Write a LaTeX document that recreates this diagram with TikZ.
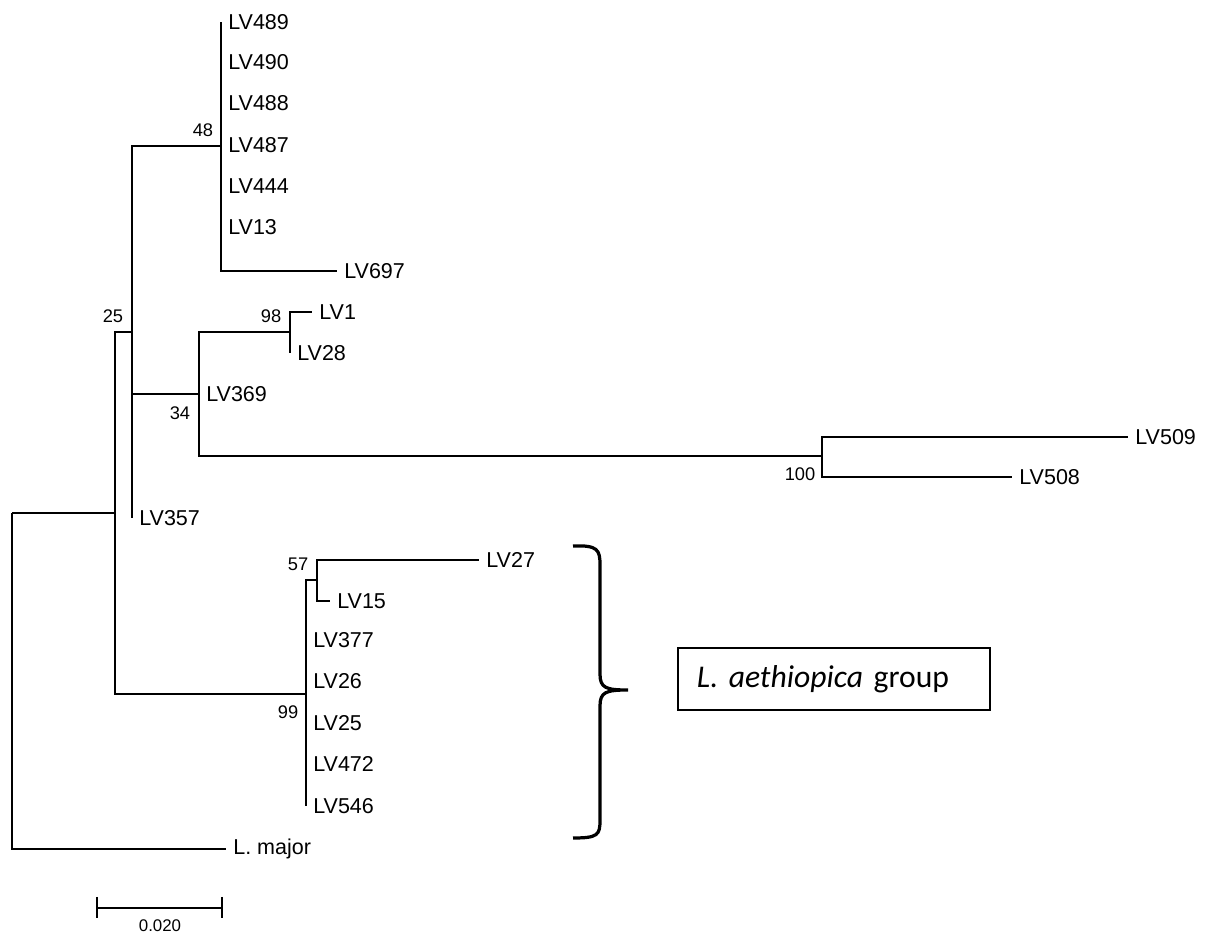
\documentclass[tikz,border=0pt]{standalone}
\usepackage{fontspec}
\setmainfont{Liberation Sans}
\newfontfamily\boxfont{Carlito}
\usetikzlibrary{positioning}

\tikzset{
  leaf/.style={anchor=west, inner xsep=5pt, inner ysep=0pt, font=\fontsize{15.3pt}{18pt}\selectfont},
  boot/.style={inner sep=0pt, font=\fontsize{13pt}{15pt}\selectfont},
  branch/.style={line width=1pt},
  groupbox/.style={draw, line width=1pt, minimum width=7.8cm, minimum height=1.55cm,
    inner xsep=0.475cm, text width=6.85cm, align=left, font=\boxfont\fontsize{22.5pt}{25pt}\selectfont}
}

\begin{document}
\begin{tikzpicture}[x=0.025cm, y=-0.025cm]
\useasboundingbox (0,0) rectangle (1216,937);

\coordinate (root) at (12,513);
\coordinate (n25) at (115,513);
\coordinate (na) at (132,332);
\coordinate (n48) at (221,146);
\coordinate (n34) at (199,394);
\coordinate (n98) at (290,332);
\coordinate (n100) at (822,456);
\coordinate (n99) at (306,694);
\coordinate (n57) at (317,580);

\node[leaf] (lv489) at (221,22) {LV489};
\node[leaf] (lv490) at (221,62) {LV490};
\node[leaf] (lv488) at (221,103) {LV488};
\node[leaf] (lv487) at (221,145) {LV487};
\node[leaf] (lv444) at (221,186) {LV444};
\node[leaf] (lv13) at (221,227) {LV13};
\node[leaf] (lv697) at (337,271) {LV697};
\node[leaf] (lv1) at (312,312) {LV1};
\node[leaf] (lv28) at (290,353) {LV28};
\node[leaf] (lv369) at (199,394) {LV369};
\node[leaf] (lv509) at (1128,437) {LV509};
\node[leaf] (lv508) at (1012,477) {LV508};
\node[leaf] (lv357) at (132,518) {LV357};
\node[leaf] (lv27) at (479,560) {LV27};
\node[leaf] (lv15) at (330,601) {LV15};
\node[leaf] (lv377) at (306,640) {LV377};
\node[leaf] (lv26) at (306,681) {LV26};
\node[leaf] (lv25) at (306,723) {LV25};
\node[leaf] (lv472) at (306,764) {LV472};
\node[leaf] (lv546) at (306,806) {LV546};
\node[leaf] (lmaj) at (226,849) {L. major};

\draw[branch] (root) |- (lmaj.west);
\draw[branch] (root) -- (n25);
\draw[branch] (n25) |- (na);
\draw[branch] (n25) |- (n99);
\draw[branch] (na) |- (n48);
\draw[branch] (na) |- (n34);
\draw[branch] (na) |- (lv357.west);
\draw[branch] (n48) |- (lv489.west);
\draw[branch] (n48) |- (lv697.west);
\draw[branch] (n34) |- (n98);
\draw[branch] (n34) |- (n100);
\draw[branch] (n98) |- (lv1.west);
\draw[branch] (n98) |- (lv28.west);
\draw[branch] (n100) |- (lv509.west);
\draw[branch] (n100) |- (lv508.west);
\draw[branch] (n99) |- (n57);
\draw[branch] (n99) |- (lv546.west);
\draw[branch] (n57) |- (lv27.west);
\draw[branch] (n57) |- (lv15.west);

\node[boot] (b48) at (203,130) {48};
\node[boot] (b25) at (113,316) {25};
\node[boot] (b98) at (271,316) {98};
\node[boot] (b34) at (180,413) {34};
\node[boot] (b100) at (800,474) {100};
\node[boot] (b99) at (288,712) {99};
\node[boot] (b57) at (298,564) {57};

\coordinate (sbl) at (97,908);
\coordinate (sbr) at (222,908);
\draw[branch] (sbl) -- (sbr);
\draw[branch] ([yshift=8]sbl) -- ([yshift=-7]sbl);
\draw[branch] ([yshift=8]sbr) -- ([yshift=-7]sbr);
\node[boot, font=\fontsize{12pt}{14pt}\selectfont] (sblab) at (160,926) {0.020};

\draw[line width=2.3pt] (573,546) .. controls (598,545) and (600,550) .. (600,565) -- (600,674)
  .. controls (600,688) and (606,690) .. (628,690)
  .. controls (606,690) and (600,692) .. (600,706) -- (600,820)
  .. controls (600,835) and (598,838) .. (573,838);

\node[groupbox] (grp) at (834,679) {\textit{L. aethiopica} group};
\end{tikzpicture}
\end{document}
